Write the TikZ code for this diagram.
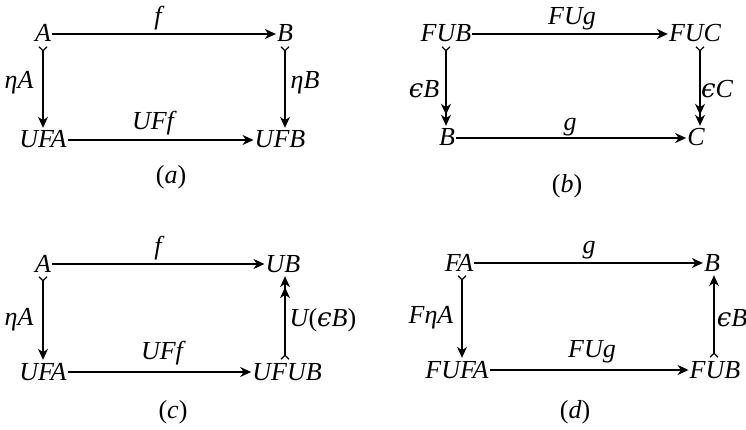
\documentclass[tikz,border=0pt]{standalone}
\usepackage{fontspec}
\setmainfont{Liberation Serif}[ItalicFont={Liberation Serif Italic}]
\newfontfamily\dvs{DejaVu Serif}
\usetikzlibrary{arrows.meta}
\newcommand{\ep}{{\dvs\itshape ϵ}}
\newcommand{\et}{η}
\tikzset{
  x=1pt, y=-1pt,
  obj/.style={inner sep=1pt, text height=17pt, text depth=1pt, font=\fontsize{26}{30}\selectfont\itshape},
  lbl/.style={inner sep=0pt, font=\fontsize{26}{30}\selectfont\itshape},
  hd/.tip={Stealth[length=11pt,width=10pt,inset=3.5pt]},
  tl/.tip={Straight Barb[reversed,length=4pt,width=8pt,line width=1.1pt]},
  ar/.style={line width=1.3pt, -hd},
  mono/.style={line width=1.3pt, tl-hd, shorten <=2pt, shorten >=2pt},
  monoepi/.style={line width=1.3pt, tl-{hd[]hd[]}, shorten <=2pt, shorten >=2pt},
}
\begin{document}
\begin{tikzpicture}
\useasboundingbox (0,0) rectangle (746,430);
% (a)
\node[obj] (aA) at (43,34) {A};
\node[obj] (aB) at (285,34) {B};
\node[obj] (aUFA) at (43,140) {UFA};
\node[obj] (aUFB) at (280,140) {UFB};
\draw[ar] (aA) -- (aB);
\draw[ar] (aUFA) -- (aUFB);
\draw[mono] (aA.south) -- (aA.south |- aUFA.north);
\draw[mono] (aB.south) -- (aB.south |- aUFB.north);
\node[lbl] (af) at (158,18) {f};
\node[lbl] (aUFf) at (153,123) {UFf};
\node[lbl] (aeA) at (19,83) {\et A};
\node[lbl] (aeB) at (305,83) {\et B};
\node[lbl] (acap) at (171,177) {\upshape(\itshape a\upshape)};
% (b)
\node[obj] (bFUB) at (446,34) {FUB};
\node[obj] (bFUC) at (695,34) {FUC};
\node[obj] (bB) at (447,138) {B};
\node[obj] (bC) at (696,138) {C};
\draw[ar] (bFUB) -- (bFUC);
\draw[ar] (bB) -- (bC);
\draw[monoepi] (bFUB.south) -- (bFUB.south |- bB.north);
\coordinate (bR) at (700,34);
\draw[monoepi] (bFUC.south -| bR) -- (bR |- bC.north);
\node[lbl] (bFUg) at (572,19) {FUg};
\node[lbl] (bg) at (570,127) {g};
\node[lbl] (beB) at (424,89) {\ep B};
\node[lbl] (beC) at (717,89) {\ep C};
\node[lbl] (bcap) at (567,186) {\upshape(\itshape b\upshape)};
% (c)
\node[obj] (cA) at (43,264) {A};
\node[obj] (cUB) at (283,264) {UB};
\node[obj] (cUFA) at (43,372) {UFA};
\node[obj] (cUFUB) at (287,372) {UFUB};
\draw[ar] (cA) -- (cUB);
\draw[ar] (cUFA) -- (cUFUB);
\draw[mono] (cA.south) -- (cA.south |- cUFA.north);
\coordinate (cR) at (285,264);
\draw[monoepi] (cR |- cUFUB.north) -- (cR |- cUB.south);
\node[lbl] (cf) at (158,248) {f};
\node[lbl] (cUFf) at (162,353) {UFf};
\node[lbl] (ceA) at (19,320) {\et A};
\node[lbl] (ceB) at (323,320) {U\upshape(\itshape\ep B\upshape)};
\node[lbl] (ccap) at (173,412) {\upshape(\itshape c\upshape)};
% (d)
\node[obj] (dFA) at (459,263) {FA};
\node[obj] (dB) at (712,263) {B};
\node[obj] (dFUFA) at (457,370) {FUFA};
\node[obj] (dFUB) at (715,370) {FUB};
\draw[ar] (dFA) -- (dB);
\draw[ar] (dFUFA) -- (dFUB);
\coordinate (dL) at (462,263);
\draw[mono] (dL |- dFA.south) -- (dL |- dFUFA.north);
\coordinate (dR) at (714,263);
\draw[mono] (dR |- dFUB.north) -- (dR |- dB.south);
\node[lbl] (dg) at (589,250) {g};
\node[lbl] (dFUg) at (592,352) {FUg};
\node[lbl] (deA) at (431,318) {F\et A};
\node[lbl] (deB) at (732,318) {\ep B};
\node[lbl] (dcap) at (575,412) {\upshape(\itshape d\upshape)};
\end{tikzpicture}
\end{document}
